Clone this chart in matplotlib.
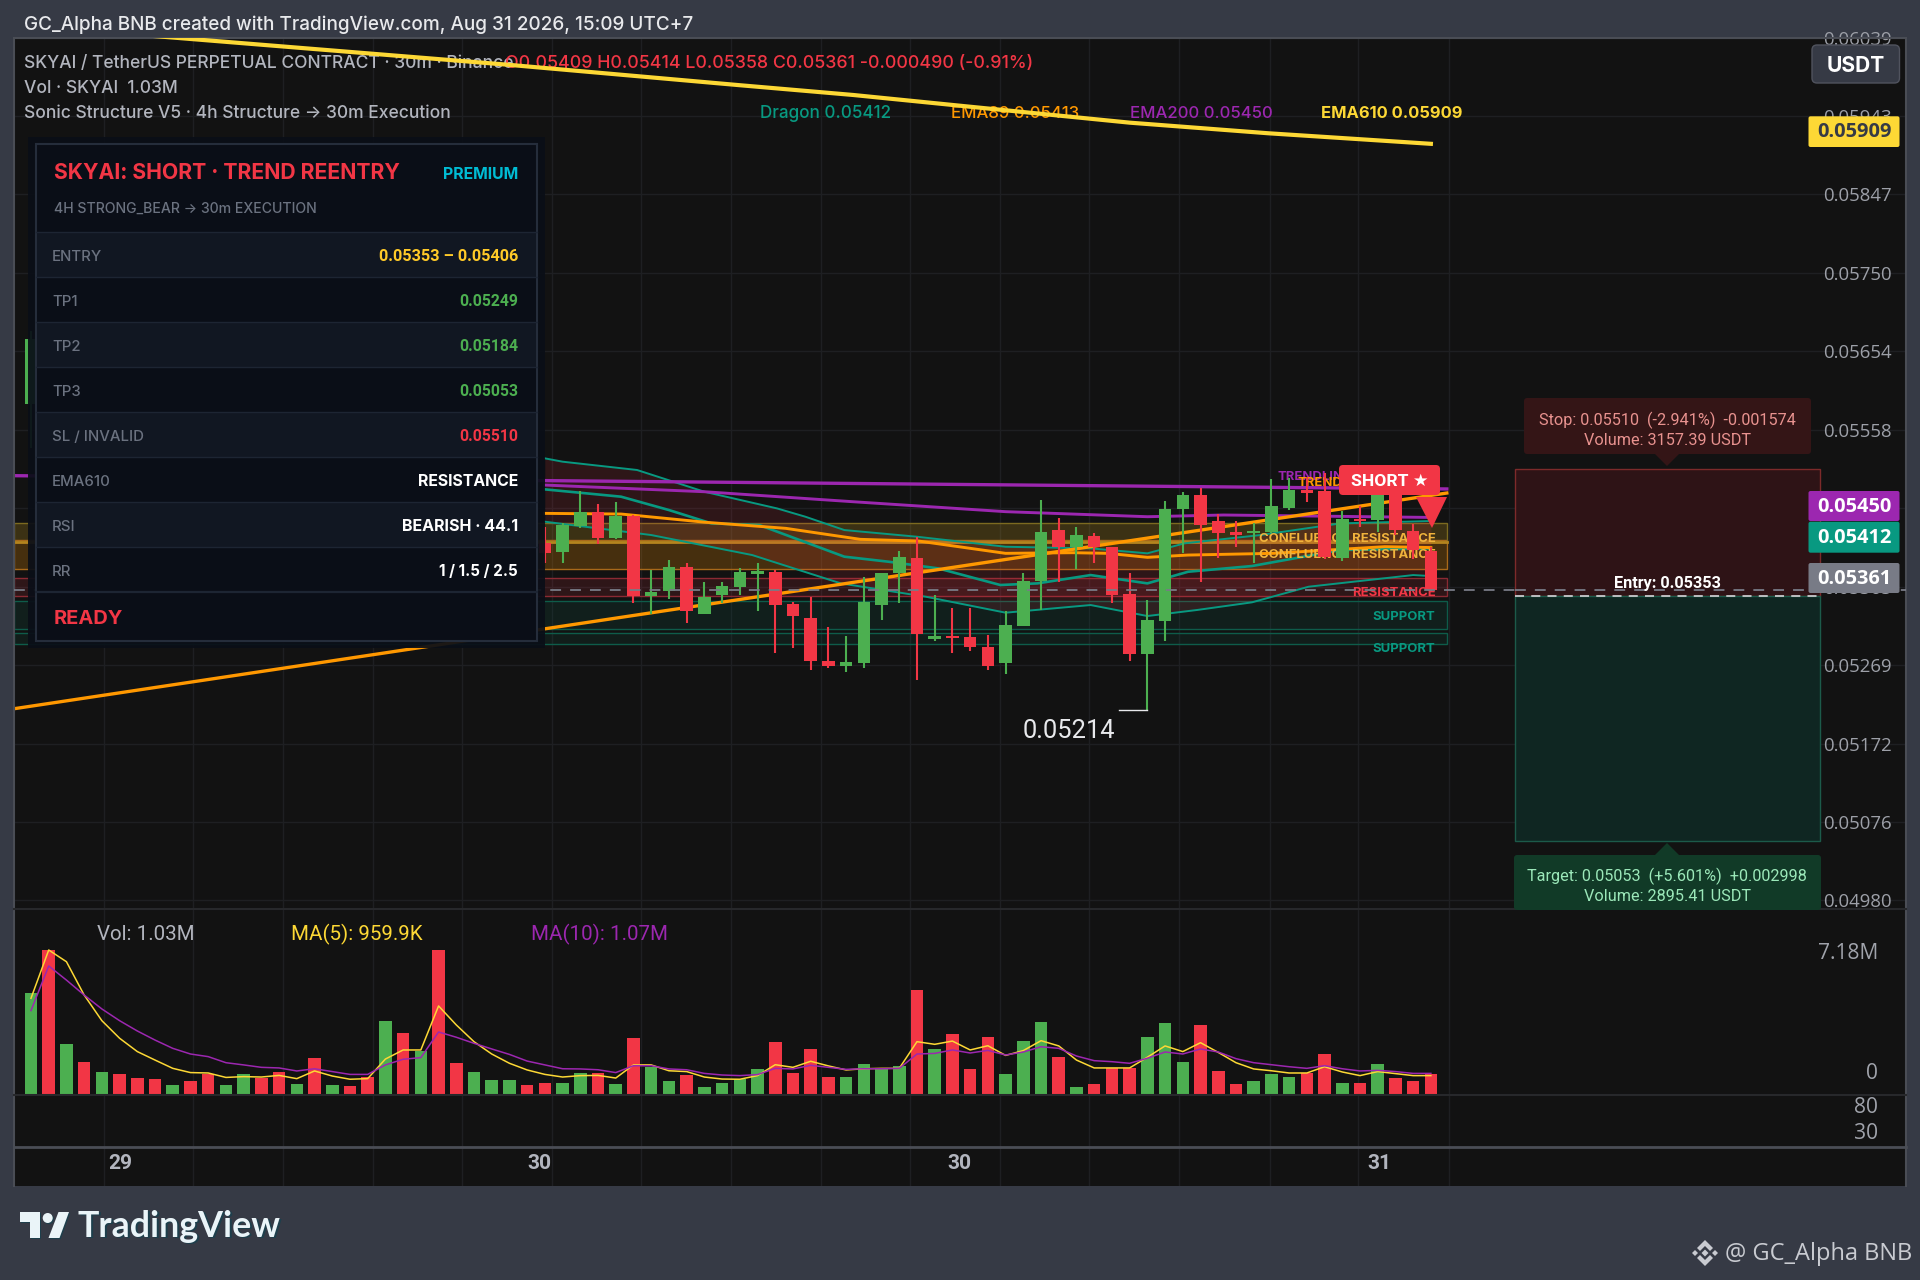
import numpy as np
import matplotlib
matplotlib.use("Agg")
import matplotlib.pyplot as plt
from matplotlib.patches import Rectangle, FancyBboxPatch, Polygon, Circle
from matplotlib.transforms import Affine2D

# ---------- data ----------
# candles 1..28 are hidden behind the info panel in the reference; prices are in 1e-5 units
candle_idx = [0] + list(range(29, 80))
opens_e5 = [5589, 5418.2, 5407.1, 5439.9, 5456.2, 5424.3, 5452.1, 5353.5, 5359.2, 5389.1, 5331.8, 5354.7, 5364.9,
            5380.5, 5382.9, 5343.2, 5326, 5274, 5267.9, 5271.1, 5342.4, 5381.7, 5400.1, 5300.2, 5304.7, 5303.1,
            5290.8, 5271.1, 5317, 5372.3, 5434.9, 5413.2, 5427.2, 5414.1, 5355.9, 5282.2, 5323.2, 5460.3, 5477.1,
            5445.6, 5431.7, 5430.4, 5431.7, 5462, 5483.7, 5482.9, 5400.6, 5447.6, 5446.4, 5496, 5433.3, 5409]
highs_e5 = [5679, 5438, 5443.5, 5482.4, 5466.5, 5468.9, 5453, 5385.4, 5397.7, 5393.6, 5371, 5371, 5387.4,
            5393.6, 5385.4, 5345.7, 5352.6, 5315.8, 5304.3, 5376.4, 5381.7, 5408.7, 5425.5, 5354.3, 5339.1, 5338.3,
            5305.5, 5334.6, 5381.3, 5471, 5448.9, 5437.8, 5430.8, 5414.1, 5381.3, 5348.5, 5470.2, 5481.2, 5486.5,
            5453.8, 5445.2, 5443.5, 5497.2, 5498, 5500, 5504.1, 5457.9, 5464.4, 5504, 5504, 5441.9, 5414]
lows_e5 = [5535, 5393.6, 5394.4, 5436.6, 5417.3, 5423.1, 5345.3, 5331.3, 5350.2, 5320.3, 5330.9, 5345.3, 5354.7,
           5335, 5283, 5289.2, 5263, 5265.4, 5260.5, 5265, 5324, 5345.3, 5250.3, 5298.6, 5283, 5285.9,
           5262.5, 5258, 5317, 5336.3, 5371, 5386.2, 5394.4, 5345.3, 5274, 5214, 5298.2, 5406.3, 5371,
           5400.6, 5414.1, 5394.4, 5430.4, 5459.5, 5469.3, 5399.3, 5396.9, 5437.8, 5432.5, 5428.4, 5398.5, 5358]
closes_e5 = [5669, 5405.9, 5440.7, 5457.1, 5425.1, 5452.1, 5353.5, 5358, 5389.1, 5335, 5352.2, 5366.1, 5382.9,
             5384.2, 5342.4, 5328.9, 5273.2, 5267.9, 5272.4, 5346.1, 5381.7, 5401, 5306.4, 5304.3, 5301.4, 5290.8,
             5267, 5317.8, 5371.9, 5432.1, 5414.1, 5428.8, 5414.1, 5355.1, 5282.2, 5324, 5459.9, 5477.1, 5441.1,
             5431.3, 5428.8, 5432.9, 5464, 5483.7, 5480.4, 5401, 5448.1, 5445.2, 5496, 5434.5, 5410, 5361]

volumes = [5.03, 7.18, 2.51, 1.63, 1.14, 1.04, .84, .81, .50, .69, 1.04, .48, 1.04, .83, 1.14, .53, 1.83, .48, .46, .91,
           3.65, 3.07, 2.20, 7.18, 1.57, 1.14, .74, .73, .50, .58, .61, 1.07, 1.07, .53, 2.81, 1.40, .68, .99, .38, .61,
           .78, 1.27, 2.61, 1.11, 2.26, .89, .89, 1.54, 1.27, 1.45, 5.18, 2.26, 3.02, 1.30, 2.86, 1.04, 2.66, 3.61, 1.87,
           .41, .56, 1.32, 1.34, 2.86, 3.55, 1.63, 3.45, 1.19, .53, .69, 1.04, .87, 1.11, 2.05, .59, .59, 1.52, .84, .69,
           1.04]
vol_dir = ("g r g r g r r r g r r g g r r g r g r r g r g r r g g g r r g g r g r g g r g g g g "
           "r r r r g g g g r g r r r g g g r g r r r g g g r r r g g g r r g r g r r r").split()
ma5 = [4.79, 7.18, 6.60, 4.95, 3.68, 2.81, 2.15, 1.73, 1.32, 1.11, 1.09, .87, .91, .89, .97, .81, 1.19, .94, .78, .81,
       1.78, 2.23, 2.23, 4.41, 3.47, 2.64, 2.03, 1.57, 1.24, 1.02, .89, .96, .97, .84, 1.49, 1.49, 1.20, 1.16, .89, .79,
       .78, .96, 1.50, 1.37, 1.67, 1.44, 1.24, 1.30, 1.32, 1.32, 2.64, 2.51, 2.67, 2.23, 2.44, 1.96, 2.20, 2.69, 2.43,
       1.73, 1.34, 1.34, 1.34, 1.87, 2.43, 2.15, 2.59, 2.11, 1.60, 1.29, 1.20, 1.09, 1.09, 1.40, 1.14, .96, 1.16, 1.06,
       .96, .96]
ma10 = [4.18, 6.39, 5.69, 4.95, 4.26, 3.68, 3.17, 2.72, 2.31, 2.03, 1.90, 1.60, 1.49, 1.37, 1.34, 1.19, 1.30, 1.16, 1.02,
        1.02, 1.49, 1.77, 1.85, 3.12, 2.86, 2.56, 2.28, 2.01, 1.68, 1.49, 1.30, 1.29, 1.25, 1.11, 1.45, 1.45, 1.29, 1.25,
        1.07, .99, .96, 1.01, 1.32, 1.29, 1.47, 1.37, 1.27, 1.30, 1.30, 1.32, 2.03, 2.06, 2.23, 2.08, 2.21, 1.98, 2.13,
        2.39, 2.31, 1.93, 1.70, 1.65, 1.57, 1.82, 2.13, 2.03, 2.28, 2.13, 1.80, 1.60, 1.50, 1.40, 1.32, 1.45, 1.30, 1.19,
        1.22, 1.16, 1.07, 1.07]

upper_x = [29, 30, 34.2, 38, 42.1, 43.7, 45.9, 50, 55, 59.8, 63, 65.1, 69.4, 73.9, 79]
upper_y = [.055226, .055185, .055083, .054816, .054611, .054509, .054345, .054263, .05414, .05412, .054059, .054182,
           .054284, .054427, .054456]
mid_x = [29, 33.3, 36, 38.4, 41.1, 45.9, 48.4, 51.2, 54.7, 56.8, 59.8, 63, 65.3, 68.9, 73.9, 79]
mid_y = [.054845, .054755, .054591, .054427, .054407, .054018, .053956, .053874, .05367, .05369, .053792, .05369,
         .053833, .053903, .0541, .05412]
lower_x = [29, 35, 40.7, 45.7, 50.5, 55, 59.8, 63, 65.8, 68.9, 72.1, 78, 79]
lower_y = [.054448, .054284, .054038, .05369, .053526, .05333, .053424, .053289, .053363, .053457, .053649, .053792,
           .05378]
ema89_x = [29, 33.3, 38.1, 42.6, 46.8, 50.1, 55, 58.8, 60.8, 63, 65.3, 70.1, 76.4, 79]
ema89_y = [.05455, .054542, .05444, .054366, .054231, .05421, .054059, .054067, .054059, .05401, .054038, .054059,
           .054141, .05413]
ema200_x = [29, 38, 46.4, 55, 63, 67.3, 79]
ema200_y = [.054898, .054816, .054693, .054571, .054509, .05453, .05450]
ema610_x = [5.5, 27, 40, 46.4, 52.8, 62, 69.8, 79]
ema610_y = [.06044, .06006, .05981, .05969, .05955, .05935, .05922, .05909]
trend_purple_x = [-0.96, 79.9]
trend_purple_y = [.055013, .054850]
trend_orange_x = [-0.96, 79.9]
trend_orange_y = [.05215, .05480]

price_ticks = [.06039, .05943, .05847, .05750, .05654, .05558, .05461, .05365, .05269, .05172, .05076, .04980]
grid_x = [4.1, 9.16, 14.2, 19.3, 24.3, 29.4, 34.4, 39.5, 44.6, 49.6, 54.7, 59.7, 64.8, 69.9, 74.9, 80]
time_x = [5.02, 28.72, 52.42, 76.12]
time_labels = ["29", "30", "30", "31"]

# zones: (low, high)
conf1 = (.05420, .05443)
conf2 = (.05387, .05422)
resist = (.05353, .05375)
supp1 = (.05313, .05347)
supp2 = (.05294, .05308)
stop_price, entry_price, target_price, last_price = .05510, .05353, .05053, .05361

# ---------- style ----------
W, H = 1920, 1280
BG, PANE, GRID, EDGE = "#363A45", "#121212", "#1E1F22", "#4A4D55"
UP, DOWN = "#4CAF50", "#F23645"
TEAL, ORANGE, PURPLE, YELLOW = "#089981", "#FF9800", "#9C27B0", "#FDD835"
plt.rcParams["font.family"] = ["Roboto", "DejaVu Sans"]
INTER = ["Inter", "DejaVu Sans"]
ROBOTO = ["Roboto", "DejaVu Sans"]
OPEN = ["Open Sans", "DejaVu Sans"]
DY = 1.5  # text centre correction in pixels


def px(n):
    return n * 0.72


L, R, T0, B0 = 14, 1906, 38, 909
XMIN, XMAX = (L - 31) / 17.72, (R - 31) / 17.72
YMAX = .06039
YMIN = YMAX - (B0 - T0) / 81400

fig = plt.figure(figsize=(19.2, 12.8), dpi=100, facecolor=BG)


def add_pane(top, bot, zorder):
    a = fig.add_axes([L / W, 1 - bot / H, (R - L) / W, (bot - top) / H], facecolor=PANE, zorder=zorder)
    a.set_xlim(XMIN, XMAX)
    for s in a.spines.values():
        s.set_color(EDGE)
        s.set_linewidth(1.5)
    return a


pixel = Affine2D().scale(1 / W, -1 / H).translate(0, 1) + fig.transFigure

# ---------- main pane ----------
ax = add_pane(T0, B0, 1)
ax.set_ylim(YMIN, YMAX)
ax.set_xticks(grid_x)
ax.set_xticklabels([])
ax.set_yticks(price_ticks)
# the 0.05461 label sits fully under the badges in the reference, so it stays blank
ax.set_yticklabels(["" if p == .05461 else f"{p:.5f}" for p in price_ticks])
ax.tick_params(axis="x", length=0)
ax.tick_params(axis="y", length=0, labelright=True, labelleft=False, pad=px(-83), labelsize=px(18.6),
               labelcolor="#9DA0A8")
ax.grid(True, color=GRID, lw=1)
ax.set_axisbelow(True)
for t in ax.get_yticklabels():
    t.set_family(OPEN)

# zones
zone_x0, zone_x1 = XMIN, 79.9
for (lo, hi), c, a, ec in [(supp2, "#0E5C4A", .16, "#0E5C4A"), (supp1, "#0E5C4A", .18, "#0E5C4A"),
                           (resist, DOWN, .13, "#8A2A33"), (conf2, ORANGE, .22, "#A8691A"),
                           (conf1, "#E0B020", .20, "#7C6A20")]:
    ax.add_patch(Rectangle((zone_x0, lo), zone_x1 - zone_x0, hi - lo, facecolor=c, alpha=a, lw=0, zorder=1.2))
    ax.add_patch(Rectangle((zone_x0, lo), zone_x1 - zone_x0, hi - lo, fill=False, edgecolor=ec, lw=1, zorder=1.25))
ax.plot([zone_x0, zone_x1], [conf1[0]] * 2, color="#B5841E", lw=2, zorder=1.3)

# ribbon
rx = np.linspace(29, 79, 300)
ax.fill_between(rx, np.interp(rx, upper_x, upper_y), np.interp(rx, lower_x, lower_y), color=DOWN, alpha=.13, lw=0,
                zorder=1.4)
ax.plot(upper_x, upper_y, color=TEAL, lw=1.4, zorder=2)
ax.plot(mid_x, mid_y, color=TEAL, lw=1.9, zorder=2)
ax.plot(lower_x, lower_y, color=TEAL, lw=1.4, zorder=2)
ax.plot(ema89_x, ema89_y, color=ORANGE, lw=2.1, zorder=2.1)
ax.plot(ema200_x, ema200_y, color=PURPLE, lw=2.1, zorder=2.1)
ax.plot(trend_purple_x, trend_purple_y, color=PURPLE, lw=2.4, zorder=2.1)
ax.plot(trend_orange_x, trend_orange_y, color=ORANGE, lw=2.4, zorder=2.1)

# zone text (candles sit on top of it)
for s, y, c in [("CONFLUENCE RESISTANCE", 537, "#F0B33C"), ("CONFLUENCE RESISTANCE", 554, "#F0B33C"),
                ("RESISTANCE", 592, DOWN), ("SUPPORT", 615, TEAL), ("SUPPORT", 647, TEAL)]:
    ax.text(1435.5, y + DY, s, transform=pixel, color=c, fontsize=px(13.1), fontweight="bold", ha="right", va="center",
            family=INTER, zorder=2.3)
ax.text(1278, 476 + DY, "TRENDLINE", transform=pixel, color=PURPLE, fontsize=px(13.1), fontweight="bold", va="center",
        family=INTER, zorder=2.3)
ax.text(1298, 482 + DY, "TRENDLINE", transform=pixel, color=ORANGE, fontsize=px(13.1), fontweight="bold", va="center",
        family=INTER, zorder=2.3)

# candles
cx = np.array(candle_idx, float)
o, h, l, c = [np.array(v) / 1e5 for v in (opens_e5, highs_e5, lows_e5, closes_e5)]
cols = [UP if b >= a else DOWN for a, b in zip(o, c)]
ax.vlines(cx, l, h, colors=cols, lw=1.5, zorder=3)
ax.bar(cx, np.abs(c - o), bottom=np.minimum(o, c), width=.71, color=cols, lw=0, zorder=3.1)

# last price line, low marker
ax.axhline(last_price, color="#787B86", lw=1.3, ls=(0, (6, 5)), zorder=3.3)
low_i = candle_idx[int(np.argmin(l))]
ax.plot([low_i - 1.6, low_i], [l.min()] * 2, color="#E8E9EC", lw=1, zorder=3.3)
ax.text(1069, 729 + DY, f"{l.min():.5f}", transform=pixel, color="#E8E9EC", fontsize=px(25.5), ha="center", va="center",
        zorder=3.3)

# EMA 610 + legend lines
ax.plot(ema610_x, ema610_y, color=YELLOW, lw=3, zorder=4)
LEG = [("SKYAI / TetherUS PERPETUAL CONTRACT · 30m · Binance", 24, 62, "#B2B5BE", "medium", 17.45),
       ("O0.05409 H0.05414 L0.05358 C0.05361 -0.000490 (-0.91%)", 505, 62, DOWN, "medium", 17.8),
       ("Vol · SKYAI  1.03M", 24, 87, "#B2B5BE", "medium", 17.45),
       ("Sonic Structure V5 · 4h Structure → 30m Execution", 24, 112, "#B2B5BE", "medium", 17.45),
       ("Dragon 0.05412", 760, 112, TEAL, "medium", 17.1), ("EMA89 0.05413", 951, 112, ORANGE, "medium", 16.8),
       ("EMA200 0.05450", 1130, 112, PURPLE, "medium", 16.8), ("EMA610 0.05909", 1321, 112, YELLOW, "bold", 16.5)]
for s, x, y, col, w, sz in LEG:
    ax.text(x, y + DY, s, transform=pixel, color=col, fontsize=px(sz), va="center", fontweight=w, zorder=3.5,
            family=INTER)

# position tool
bx0, bx1 = (1515 - 31) / 17.72, (1820 - 31) / 17.72
ax.add_patch(Rectangle((bx0, entry_price), bx1 - bx0, stop_price - entry_price, facecolor="#2E1316",
                       edgecolor="#7D2A2A", lw=1, zorder=5))
ax.add_patch(Rectangle((bx0, target_price), bx1 - bx0, entry_price - target_price, facecolor="#0F2622",
                       edgecolor="#1C5A4A", lw=1, zorder=5))
ax.plot([bx0, bx1], [entry_price] * 2, color="#C8C9CC", lw=1.3, ls=(0, (5, 4)), zorder=5.1)
ax.axhline(last_price, color="#787B86", lw=1.3, ls=(0, (6, 5)), zorder=5.1, xmin=(bx0 - XMIN) / (XMAX - XMIN),
           xmax=(bx1 - XMIN) / (XMAX - XMIN))

# ---------- volume pane ----------
av = add_pane(B0, 1095, 1)
vt = 7.18 * 186 / 145
av.set_ylim(0, vt)
av.bar(range(len(volumes)), volumes, width=.71, color=[UP if d == "g" else DOWN for d in vol_dir], lw=0, zorder=3)
av.plot(range(len(ma5)), ma5, color=YELLOW, lw=1.1, zorder=4)
av.plot(range(len(ma10)), ma10, color=PURPLE, lw=1.1, zorder=4)
av.set_xticks(grid_x)
av.set_xticklabels([])
av.set_yticks([])
av.tick_params(axis="x", length=0)
av.grid(True, axis="x", color=GRID, lw=1)
av.set_axisbelow(True)
for s, x, col in [("Vol: 1.03M", 97, "#B2B5BE"), ("MA(5): 959.9K", 291, YELLOW), ("MA(10): 1.07M", 531, PURPLE)]:
    av.text(x, 933 + DY, s, transform=pixel, color=col, fontsize=px(20.5), va="center")

# ---------- lower pane ----------
ar = add_pane(1095, 1147, 1)
ar.set_ylim(1.2, 101)
ar.set_xticks(grid_x)
ar.set_xticklabels([])
ar.tick_params(axis="both", length=0)
ar.grid(True, axis="x", color=GRID, lw=1)
ar.set_yticks([])

# ---------- time axis ----------
at = add_pane(1147, 1186, 1)
at.set_ylim(0, 1)
at.set_yticks([])
at.set_xticks(grid_x, minor=True)
at.set_xticks(time_x)
at.set_xticklabels(time_labels, fontsize=px(21), color="#B2B5BE", fontweight="bold")
at.tick_params(axis="x", which="both", length=0, direction="in", pad=px(-32))
at.grid(True, which="minor", axis="x", color=GRID, lw=1)
at.set_axisbelow(True)
for a_ in (ax, av, ar, at):
    a_.spines["bottom"].set_visible(False)
for a_ in (av, ar):
    a_.spines["top"].set_color("#27282B")
    a_.spines["top"].set_linewidth(1.5)
at.spines["top"].set_linewidth(2)

# ---------- overlay in pixels ----------
o_ = fig.add_axes([0, 0, 1, 1], zorder=10)
o_.set_xlim(0, W)
o_.set_ylim(H, 0)
o_.axis("off")
o_.patch.set_alpha(0)


def rect(x0, y0, x1, y1, fc, ec="none", lw=0, alpha=1, z=2):
    o_.add_patch(Rectangle((x0, y0), x1 - x0, y1 - y0, facecolor=fc, edgecolor=ec, lw=lw, alpha=alpha, zorder=z))


def rbox(x0, y0, x1, y1, fc, r=4, ec="none", lw=0, z=3):
    o_.add_patch(FancyBboxPatch((x0, y0), x1 - x0, y1 - y0, boxstyle=f"round,pad=0,rounding_size={r}", facecolor=fc,
                                edgecolor=ec, lw=lw, zorder=z))


def txt(x, y, s, col, size, weight="normal", ha="left", fam=INTER, z=5):
    o_.text(x, y + DY, s, color=col, fontsize=px(size), fontweight=weight, ha=ha, va="center", family=fam, zorder=z)


# status strip
txt(24, 23, "GC_Alpha BNB created with TradingView.com, Aug 31 2026, 15:09 UTC+7", "#E8E9EC", 18.95, "medium")

# panel
P0, P1 = 35.7, 537
rect(28, 137, 545, 648, "#0A0E17", alpha=.93, z=1)
rect(P0, 144.3, P1, 641, "#0A0E17", ec="#252D3B", lw=1.5, z=2)
rows = [232, 277.3, 322.3, 367.3, 412.3, 457.3, 502.3, 547.3, 592.3]
labels = ["ENTRY", "TP1", "TP2", "TP3", "SL / INVALID", "EMA610", "RSI", "RR"]
values = ["0.05353 – 0.05406", "0.05249", "0.05184", "0.05053", "0.05510", "RESISTANCE", "BEARISH · 44.1", "1 / 1.5 / 2.5"]
vcols = ["#FFCA28", UP, UP, UP, DOWN, "#FFFFFF", "#FFFFFF", "#FFFFFF"]
vsizes = [16.3, 15.8, 15.8, 15.8, 15.8, 15.8, 16, 15.2]
vfams = [ROBOTO, ROBOTO, ROBOTO, ROBOTO, ROBOTO, INTER, INTER, INTER]
for k, (lab, val, vc) in enumerate(zip(labels, values, vcols)):
    y0, y1 = rows[k], rows[k + 1]
    rect(P0 + .8, y0, P1 - .8, y1, "#111722" if k % 2 == 0 else "#0A0E17", z=2.2)
    o_.plot([P0, P1], [y0, y0], color="#1D2533", lw=1, zorder=2.4)
    txt(52, (y0 + y1) / 2 + .5, lab, "#6B7280", 15, "medium")
    txt(518, (y0 + y1) / 2, val, vc, vsizes[k], "bold", ha="right", fam=vfams[k])
o_.plot([P0, P1], [rows[-1]] * 2, color="#1D2533", lw=1.6, zorder=2.4)
txt(54, 171.7, "SKYAI: SHORT · TREND REENTRY", DOWN, 21.2, "bold")
txt(518, 172.7, "PREMIUM", "#00BCD4", 15.8, "bold", ha="right")
txt(54, 207, "4H STRONG_BEAR → 30m EXECUTION", "#6B7280", 14.1, "medium")
txt(54, 617.7, "READY", DOWN, 20, "bold")

# SHORT marker
rbox(1339, 465, 1440, 495, DOWN, r=4)
txt(1390, 480, "SHORT ★", "#FFFFFF", 17.5, "bold", ha="center", fam=ROBOTO)
o_.add_patch(Polygon([(1416, 497), (1447, 497), (1432, 528)], facecolor=DOWN, lw=0, zorder=3))

# stop / target labels
rbox(1524, 398, 1811, 454, "#341516", r=3)
o_.add_patch(Polygon([(1655, 454), (1679, 454), (1667, 466)], facecolor="#341516", lw=0, zorder=3))
txt(1667, 419, "Stop: 0.05510  (-2.941%)  -0.001574", "#E8928F", 16.2, ha="center", fam=ROBOTO)
txt(1667, 439, "Volume: 3157.39 USDT", "#E8928F", 16.2, ha="center", fam=ROBOTO)
rbox(1514, 855, 1821, 910, "#113A27", r=3)
o_.add_patch(Polygon([(1655, 855), (1679, 855), (1667, 843)], facecolor="#113A27", lw=0, zorder=3))
txt(1667, 875, "Target: 0.05053  (+5.601%)  +0.002998", "#9BE8B9", 16.2, ha="center", fam=ROBOTO)
txt(1667, 895, "Volume: 2895.41 USDT", "#9BE8B9", 16.2, ha="center", fam=ROBOTO)
txt(1667, 582, "Entry: 0.05353", "#FFFFFF", 16.3, "bold", ha="center", fam=ROBOTO)

# price badges
for y0, y1, s, fc, tc in [(116.3, 147, "0.05909", "#FDD835", "#363A45"), (491, 521, "0.05450", PURPLE, "#FFFFFF"),
                          (521.7, 552.7, "0.05412", TEAL, "#FFFFFF"), (563, 593, "0.05361", "#787B86", "#FFFFFF")]:
    rbox(1808.5, y0, 1899.5, y1, fc, r=2)
    txt(1854, (y0 + y1) / 2 - 1, s, tc, 20, "bold", ha="center", fam=OPEN)
rbox(1812, 45, 1899.5, 83, "#363A45", r=5, ec="#50535E", lw=1)
txt(1856, 64, "USDT", "#FFFFFF", 21, "bold", ha="center")

# pane scale labels
for y, s in [(952, "7.18M"), (1072, "0"), (1106, "80"), (1132, "30")]:
    txt(1878, y, s, "#A0A3AB", 21, ha="right", fam=OPEN)

# TradingView logo
sh = 1.2
for dx, col, z in [(sh, "#1E3F4C", 3), (0, "#EAF4F8", 4)]:
    oo = (20 + dx, 1212 + dx)
    o_.add_patch(Polygon([(oo[0], oo[1]), (oo[0] + 20, oo[1]), (oo[0] + 20, oo[1] + 26), (oo[0] + 10, oo[1] + 26),
                          (oo[0] + 10, oo[1] + 9.5), (oo[0], oo[1] + 9.5)], facecolor=col, lw=0, zorder=z))
    o_.add_patch(Circle((oo[0] + 27.7, oo[1] + 6), 5, facecolor=col, lw=0, zorder=z))
    o_.add_patch(Polygon([(oo[0] + 38.5, oo[1]), (oo[0] + 49, oo[1]), (oo[0] + 39.5, oo[1] + 26),
                          (oo[0] + 28.5, oo[1] + 26)], facecolor=col, lw=0, zorder=z))
    txt(78 + dx, 1225 + dx, "TradingView", col, 35.7, "bold", fam=["Lato", "DejaVu Sans"], z=z)

# signature
gx, gy, gc = 1705, 1253, "#C9CBD1"
o_.add_patch(Polygon([(gx, gy - 13), (gx + 8, gy - 5), (gx + 5, gy - 2), (gx, gy - 7), (gx - 5, gy - 2), (gx - 8, gy - 5)],
                     facecolor=gc, lw=0))
o_.add_patch(Polygon([(gx, gy + 13), (gx + 8, gy + 5), (gx + 5, gy + 2), (gx, gy + 7), (gx - 5, gy + 2), (gx - 8, gy + 5)],
                     facecolor=gc, lw=0))
for ddx, r_ in [(-10, 3), (10, 3), (0, 3.5)]:
    o_.add_patch(Polygon([(gx + ddx - r_, gy), (gx + ddx, gy - r_), (gx + ddx + r_, gy), (gx + ddx, gy + r_)], facecolor=gc,
                         lw=0))
txt(1725, 1252.5, "@ GC_Alpha BNB", gc, 23.6, fam=OPEN)

fig.savefig("out.png", dpi=100, facecolor=BG)
